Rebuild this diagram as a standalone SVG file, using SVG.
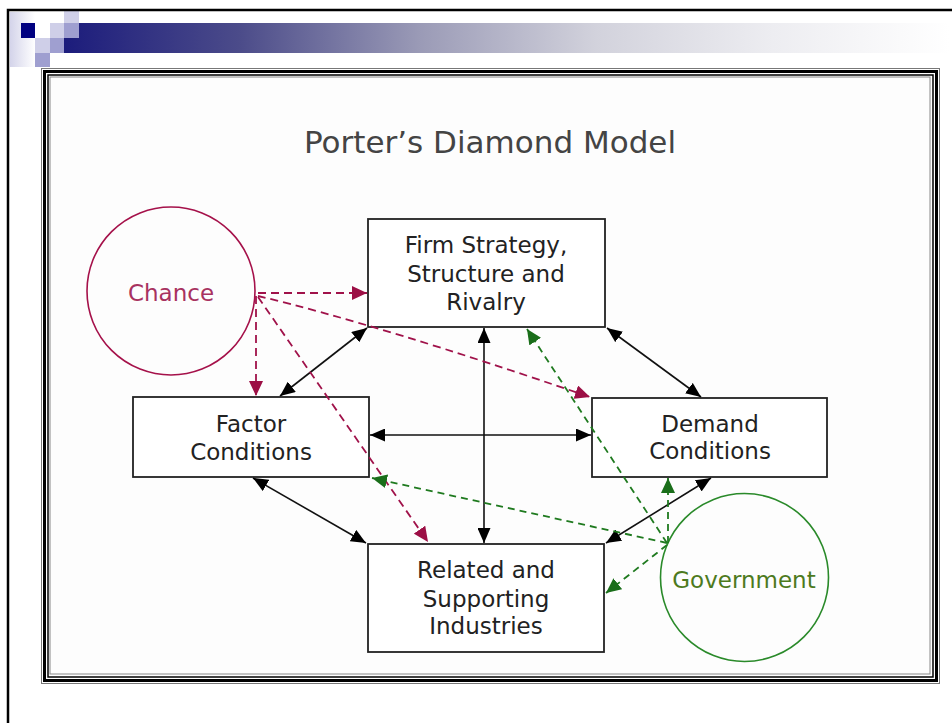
<svg xmlns="http://www.w3.org/2000/svg" width="952" height="723" viewBox="0 0 952 723">
<defs>
<linearGradient id="bar" x1="0" y1="0" x2="1" y2="0">
<stop offset="0" stop-color="#1c1c7c"/>
<stop offset="0.2" stop-color="#4c4c8a"/>
<stop offset="0.4" stop-color="#9a9ab6"/>
<stop offset="0.6" stop-color="#d2d2dc"/>
<stop offset="0.8" stop-color="#ededf1"/>
<stop offset="1" stop-color="#ffffff"/>
</linearGradient>
<linearGradient id="strip" x1="0" y1="0" x2="1" y2="0">
<stop offset="0" stop-color="#d4d4ea"/>
<stop offset="1" stop-color="#ffffff"/>
</linearGradient>
<marker id="ab" markerUnits="userSpaceOnUse" markerWidth="16" markerHeight="13" refX="15" refY="6.5" orient="auto-start-reverse">
<path d="M0,0 L15,6.5 L0,13 z" fill="#000"/>
</marker>
<marker id="ar" markerUnits="userSpaceOnUse" markerWidth="16" markerHeight="14" refX="15" refY="7" orient="auto">
<path d="M0,0 L15,7 L0,14 z" fill="#9c0f45"/>
</marker>
<marker id="ag" markerUnits="userSpaceOnUse" markerWidth="16" markerHeight="14" refX="15" refY="7" orient="auto">
<path d="M0,0 L15,7 L0,14 z" fill="#1a6e1a"/>
</marker>
</defs>
<style>
.box{fill:#fff;stroke:#222;stroke-width:1.8}
.lbl{font-family:"DejaVu Sans",Verdana,sans-serif;font-size:23px;fill:#222;text-anchor:middle}
.blk{stroke:#111;stroke-width:1.6;fill:none;marker-start:url(#ab);marker-end:url(#ab)}
.red{stroke:#a0124a;stroke-width:1.8;fill:none;stroke-dasharray:8 5;marker-end:url(#ar)}
.grn{stroke:#1f7a1f;stroke-width:1.8;fill:none;stroke-dasharray:7 5;marker-end:url(#ag)}
</style>
<rect x="0" y="0" width="952" height="723" fill="#fff"/>
<!-- slide decoration -->
<rect x="10" y="12" width="25" height="55" fill="url(#strip)"/>
<rect x="64" y="23" width="886" height="30" fill="url(#bar)"/>
<rect x="64" y="11" width="15" height="12" fill="#d0d0e8"/>
<rect x="21" y="23" width="14" height="15" fill="#000080"/>
<rect x="35" y="23" width="15" height="15" fill="#ffffff"/>
<rect x="50" y="23" width="14" height="15" fill="#cfcfe8"/>
<rect x="64" y="23" width="15" height="15" fill="#9f9fd0"/>
<rect x="35" y="38" width="15" height="15" fill="#cfcfe8"/>
<rect x="50" y="38" width="14" height="15" fill="#9f9fd0"/>
<rect x="35" y="53" width="15" height="14" fill="#9f9fd0"/>
<path d="M8,723 V10 H952" fill="none" stroke="#000" stroke-width="2.5"/>
<!-- frame -->
<rect x="41.5" y="68.5" width="898" height="615" fill="none" stroke="#777" stroke-width="1"/>
<rect x="44.5" y="71.5" width="892" height="609" fill="none" stroke="#000" stroke-width="3"/>
<rect x="48" y="75" width="885" height="602" fill="none" stroke="#000" stroke-width="1.5"/>
<rect x="50" y="77" width="880" height="597" fill="#fdfdfd" stroke="#888" stroke-width="1"/>
<text x="490" y="153" font-family="DejaVu Sans, Verdana, sans-serif" font-size="31" fill="#444" text-anchor="middle">Porter’s Diamond Model</text>
<!-- nodes -->
<g id="chance">
<circle cx="171" cy="291" r="84" fill="none" stroke="#a5114a" stroke-width="1.6"/>
<text class="lbl" x="171" y="301" style="fill:#a83260">Chance</text>
</g>
<g id="government">
<circle cx="744.5" cy="577.5" r="84" fill="none" stroke="#2a8a2a" stroke-width="1.6"/>
<text class="lbl" x="744" y="588" style="fill:#4d7a1d">Government</text>
</g>
<g id="firm">
<rect class="box" x="368" y="219" width="237" height="108"/>
<text class="lbl" x="486" y="253">Firm Strategy,</text>
<text class="lbl" x="486" y="282">Structure and</text>
<text class="lbl" x="486" y="310">Rivalry</text>
</g>
<g id="factor">
<rect class="box" x="133" y="397" width="236" height="80"/>
<text class="lbl" x="251" y="432">Factor</text>
<text class="lbl" x="251" y="460">Conditions</text>
</g>
<g id="demand">
<rect class="box" x="592" y="398" width="235" height="79"/>
<text class="lbl" x="710" y="432">Demand</text>
<text class="lbl" x="710" y="459">Conditions</text>
</g>
<g id="related">
<rect class="box" x="368" y="544" width="236" height="108"/>
<text class="lbl" x="486" y="578">Related and</text>
<text class="lbl" x="486" y="607">Supporting</text>
<text class="lbl" x="486" y="634">Industries</text>
</g>
<!-- connectors -->
<g id="connectors">
<path class="blk" d="M367,328 L280,396"/>
<path class="blk" d="M607,328 L701,397"/>
<path class="blk" d="M370,435 L591,435"/>
<path class="blk" d="M484,328 L484,543"/>
<path class="blk" d="M253,478 L366,543"/>
<path class="blk" d="M606,543 L711,478"/>
<path class="red" d="M258,293 H367"/>
<path class="red" d="M256,296 V396"/>
<path class="red" d="M258,296 Q380,325 590,397"/>
<path class="red" d="M258,297 L428,542"/>
<path class="grn" d="M667,543 L527,329"/>
<path class="grn" d="M668,543 V478"/>
<path class="grn" d="M667,543 L372,478"/>
<path class="grn" d="M667,545 L606,593"/>
</g>
</svg>
